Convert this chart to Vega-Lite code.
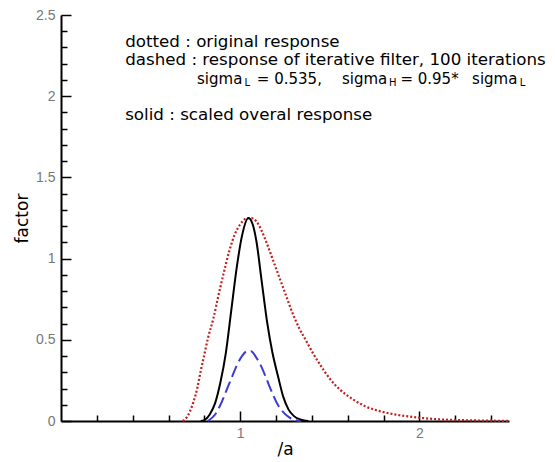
{
  "$schema": "https://vega.github.io/schema/vega-lite/v6.json",
  "width": 448,
  "height": 406,
  "autosize": {"type": "none"},
  "padding": {"left": 61, "top": 15, "right": 46, "bottom": 41},
  "background": "white",
  "config": {
    "view": {"stroke": null},
    "font": "DejaVu Sans",
    "axis": {
      "grid": false,
      "domainColor": "black",
      "domainWidth": 2,
      "tickColor": "black",
      "tickWidth": 1.5,
      "labelColor": "#777777",
      "labelFont": "Liberation Sans",
      "labelFontSize": 14,
      "labelFlush": false,
      "labelOverlap": false,
      "titleFont": "DejaVu Sans",
      "titleFontSize": 17,
      "titleFontWeight": "normal",
      "titleColor": "black"
    }
  },
  "datasets": {
    "orig": [
      {"x": 0.68, "y": 0}, {"x": 0.70, "y": 0.02}, {"x": 0.72, "y": 0.06}, {"x": 0.74, "y": 0.12},
      {"x": 0.76, "y": 0.20}, {"x": 0.78, "y": 0.31}, {"x": 0.80, "y": 0.41}, {"x": 0.82, "y": 0.51},
      {"x": 0.85, "y": 0.63}, {"x": 0.88, "y": 0.78}, {"x": 0.91, "y": 0.92}, {"x": 0.94, "y": 1.05},
      {"x": 0.97, "y": 1.15}, {"x": 1.00, "y": 1.21}, {"x": 1.03, "y": 1.245}, {"x": 1.06, "y": 1.25},
      {"x": 1.09, "y": 1.23}, {"x": 1.12, "y": 1.17}, {"x": 1.15, "y": 1.09}, {"x": 1.18, "y": 1.0},
      {"x": 1.21, "y": 0.91}, {"x": 1.25, "y": 0.79}, {"x": 1.29, "y": 0.67}, {"x": 1.33, "y": 0.57},
      {"x": 1.37, "y": 0.49}, {"x": 1.41, "y": 0.41}, {"x": 1.45, "y": 0.34}, {"x": 1.50, "y": 0.26},
      {"x": 1.56, "y": 0.19}, {"x": 1.62, "y": 0.14}, {"x": 1.70, "y": 0.09}, {"x": 1.80, "y": 0.055},
      {"x": 1.90, "y": 0.034}, {"x": 2.00, "y": 0.02}, {"x": 2.10, "y": 0.011}, {"x": 2.25, "y": 0.005},
      {"x": 2.40, "y": 0.002}, {"x": 2.50, "y": 0.001}
    ],
    "iter": [
      {"x": 0.82, "y": 0}, {"x": 0.86, "y": 0.04}, {"x": 0.89, "y": 0.10}, {"x": 0.92, "y": 0.18},
      {"x": 0.95, "y": 0.26}, {"x": 0.98, "y": 0.34}, {"x": 1.01, "y": 0.40}, {"x": 1.04, "y": 0.43},
      {"x": 1.06, "y": 0.43}, {"x": 1.09, "y": 0.39}, {"x": 1.12, "y": 0.33}, {"x": 1.15, "y": 0.25},
      {"x": 1.18, "y": 0.17}, {"x": 1.21, "y": 0.10}, {"x": 1.24, "y": 0.055}, {"x": 1.27, "y": 0.025},
      {"x": 1.30, "y": 0.008}, {"x": 1.34, "y": 0}
    ],
    "scaled": [
      {"x": 0.78, "y": 0}, {"x": 0.80, "y": 0.005}, {"x": 0.83, "y": 0.04}, {"x": 0.86, "y": 0.11},
      {"x": 0.89, "y": 0.24}, {"x": 0.92, "y": 0.42}, {"x": 0.95, "y": 0.68}, {"x": 0.98, "y": 0.94},
      {"x": 1.01, "y": 1.14}, {"x": 1.046, "y": 1.25}, {"x": 1.07, "y": 1.21}, {"x": 1.09, "y": 1.11},
      {"x": 1.12, "y": 0.86}, {"x": 1.15, "y": 0.61}, {"x": 1.18, "y": 0.42}, {"x": 1.21, "y": 0.28},
      {"x": 1.24, "y": 0.15}, {"x": 1.27, "y": 0.07}, {"x": 1.30, "y": 0.03}, {"x": 1.34, "y": 0.008},
      {"x": 1.38, "y": 0}
    ],
    "notes": [
      {"x": 0.358, "y": 2.303, "text": "dotted : original response"},
      {"x": 0.358, "y": 2.192, "text": "dashed : response of iterative filter, 100 iterations"},
      {"x": 0.358, "y": 1.853, "text": "solid : scaled overal response"}
    ],
    "line3": [
      {"x": 0.759, "y": 2.075, "text": "sigma"},
      {"x": 1.093, "y": 2.075, "text": "= 0.535,"},
      {"x": 1.568, "y": 2.075, "text": "sigma"},
      {"x": 1.894, "y": 2.075, "text": "= 0.95*"},
      {"x": 2.294, "y": 2.075, "text": "sigma"}
    ],
    "subs": [
      {"x": 1.024, "y": 2.060, "text": "L"},
      {"x": 1.830, "y": 2.060, "text": "H"},
      {"x": 2.560, "y": 2.060, "text": "L"}
    ]
  },
  "layer": [
    {
      "data": {"name": "orig"},
      "mark": {"type": "line", "color": "#c41e1e", "strokeWidth": 2.2, "strokeDash": [2, 2], "interpolate": "monotone"},
      "encoding": {
        "x": {
          "field": "x", "type": "quantitative",
          "scale": {"domain": [0, 2.5], "nice": false, "zero": false},
          "axis": {
            "title": "/a",
            "values": [0.2, 0.4, 0.6, 0.8, 1, 1.2, 1.4, 1.6, 1.8, 2, 2.2, 2.4],
            "tickCount": 100,
            "labelExpr": "datum.value === 1 || datum.value === 2 ? format(datum.value, '~g') : ''",
            "tickSize": {"condition": {"test": "datum.value === 1 || datum.value === 2", "value": -10}, "value": -6},
            "labelPadding": 15,
            "titleBaseline": "alphabetic",
            "titleY": 33
          }
        },
        "y": {
          "field": "y", "type": "quantitative",
          "scale": {"domain": [0, 2.5], "nice": false, "zero": false},
          "axis": {
            "title": "factor",
            "values": [0, 0.1, 0.2, 0.3, 0.4, 0.5, 0.6, 0.7, 0.8, 0.9, 1, 1.1, 1.2, 1.3, 1.4, 1.5, 1.6, 1.7, 1.8, 1.9, 2, 2.1, 2.2, 2.3, 2.4, 2.5],
            "tickCount": 100,
            "labelExpr": "abs(datum.value * 2 - round(datum.value * 2)) < 0.001 ? format(datum.value, '~g') : ''",
            "tickSize": {"condition": {"test": "abs(datum.value * 2 - round(datum.value * 2)) < 0.001", "value": -10}, "value": -6},
            "labelPadding": 16,
            "titleBaseline": "alphabetic",
            "titleX": -34,
            "titleY": 203
          }
        }
      }
    },
    {
      "data": {"name": "iter"},
      "mark": {"type": "line", "color": "#3b3bd6", "strokeWidth": 2, "strokeDash": [12, 5], "interpolate": "monotone"},
      "encoding": {
        "x": {"field": "x", "type": "quantitative"},
        "y": {"field": "y", "type": "quantitative"}
      }
    },
    {
      "data": {"name": "scaled"},
      "mark": {"type": "line", "color": "black", "strokeWidth": 2, "interpolate": "monotone"},
      "encoding": {
        "x": {"field": "x", "type": "quantitative"},
        "y": {"field": "y", "type": "quantitative"}
      }
    },
    {
      "data": {"name": "notes"},
      "mark": {"type": "text", "align": "left", "baseline": "alphabetic", "font": "DejaVu Sans", "fontSize": 16.7, "color": "black"},
      "encoding": {
        "x": {"field": "x", "type": "quantitative"},
        "y": {"field": "y", "type": "quantitative"},
        "text": {"field": "text"}
      }
    },
    {
      "data": {"name": "line3"},
      "mark": {"type": "text", "align": "left", "baseline": "alphabetic", "font": "DejaVu Sans", "fontSize": 15, "color": "black"},
      "encoding": {
        "x": {"field": "x", "type": "quantitative"},
        "y": {"field": "y", "type": "quantitative"},
        "text": {"field": "text"}
      }
    },
    {
      "data": {"name": "subs"},
      "mark": {"type": "text", "align": "left", "baseline": "alphabetic", "font": "DejaVu Sans", "fontSize": 10, "color": "black"},
      "encoding": {
        "x": {"field": "x", "type": "quantitative"},
        "y": {"field": "y", "type": "quantitative"},
        "text": {"field": "text"}
      }
    }
  ]
}
